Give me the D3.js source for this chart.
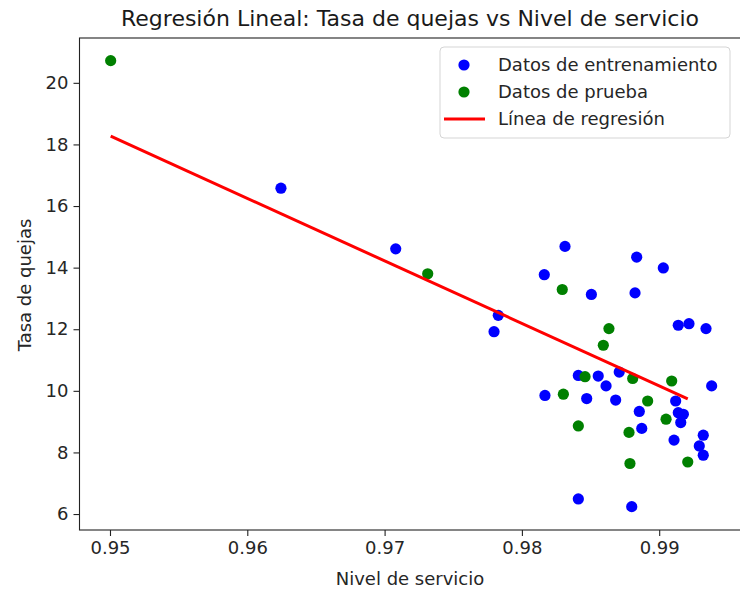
<!DOCTYPE html>
<html>
<head>
<meta charset="utf-8">
<script src="https://cdn.jsdelivr.net/npm/d3@7"></script>
<style>
  html, body { margin: 0; padding: 0; background: #fff; overflow: hidden; }
  svg { display: block; font-family: "DejaVu Sans", sans-serif; }
</style>
</head>
<body>
<div id="chart"></div>
<script>
// Training set: service level (x) and complaint rate (y)
const trainX = [0.96245, 0.97081, 0.97797, 0.97828, 0.98163, 0.98314, 0.98506, 0.98168,
  0.98411, 0.98556, 0.98613, 0.98709, 0.98472, 0.98683, 0.98836, 0.99030, 0.98824,
  0.99139, 0.99217, 0.99341, 0.99382, 0.99120, 0.98855, 0.99139, 0.99176, 0.99157,
  0.98873, 0.99321, 0.99108, 0.99292, 0.99321, 0.98411, 0.98800];
const trainY = [16.58, 14.61, 11.92, 12.45, 13.77, 14.69, 13.13, 9.85,
  10.50, 10.48, 10.16, 10.61, 9.75, 9.70, 14.34, 13.99, 13.18,
  12.13, 12.18, 12.02, 10.16, 9.67, 9.33, 9.29, 9.24, 8.97,
  8.78, 8.56, 8.40, 8.21, 7.91, 6.49, 6.24];

// Test set
const testX = [0.95005, 0.97314, 0.98294, 0.98634, 0.98593, 0.98460, 0.98807, 0.99091,
  0.98302, 0.98916, 0.99050, 0.98411, 0.98780, 0.98787, 0.99208];
const testY = [20.72, 13.80, 13.29, 12.02, 11.48, 10.46, 10.40, 10.32,
  9.89, 9.67, 9.08, 8.86, 8.65, 7.64, 7.69];

// Fitted model: y = intercept + slope * (x - 0.95)
const fitIntercept = 18.28;
const fitSlope = -203.0;

const xTicks = [0.95, 0.96, 0.97, 0.98, 0.99];
const yTicks = [6, 8, 10, 12, 14, 16, 18, 20];

const title = "Regresión Lineal: Tasa de quejas vs Nivel de servicio";
const xLabel = "Nivel de servicio";
const yLabel = "Tasa de quejas";
const legendLabels = ["Datos de entrenamiento", "Datos de prueba", "Línea de regresión"];

const W = 740, H = 591;
const plot = { left: 79.5, top: 38, right: 741, bottom: 530 };

const svg = d3.select("#chart").append("svg").attr("width", W).attr("height", H);

const x = d3.scaleLinear().domain([0.947779, 0.995958]).range([plot.left, plot.right]);
const y = d3.scaleLinear().domain([5.4817, 21.4555]).range([plot.bottom, plot.top]);

// Axes
const xAxis = d3.axisBottom(x).tickValues(xTicks).tickFormat(d3.format(".2f")).tickSize(6).tickPadding(5);
const yAxis = d3.axisLeft(y).tickValues(yTicks).tickFormat(d3.format("d")).tickSize(6).tickPadding(5);

const gx = svg.append("g").attr("transform", `translate(0,${plot.bottom})`).call(xAxis);
const gy = svg.append("g").attr("transform", `translate(${plot.left},0)`).call(yAxis);
[gx, gy].forEach(g => {
  g.select(".domain").remove();
  g.selectAll(".tick line").attr("stroke", "#222").attr("stroke-width", 1.1);
  g.selectAll(".tick text").attr("fill", "#262626").style("font-size", "18px")
    .style("font-family", "DejaVu Sans, sans-serif");
});

// Plot frame
svg.append("rect")
  .attr("x", plot.left).attr("y", plot.top)
  .attr("width", plot.right - plot.left).attr("height", plot.bottom - plot.top)
  .attr("fill", "none").attr("stroke", "#222").attr("stroke-width", 1.1);

// Scatter: training then test
const r = 5.6;
svg.append("g").selectAll("circle").data(trainX.map((v, i) => [v, trainY[i]])).join("circle")
  .attr("cx", d => x(d[0])).attr("cy", d => y(d[1])).attr("r", r).attr("fill", "#0000ff");
svg.append("g").selectAll("circle").data(testX.map((v, i) => [v, testY[i]])).join("circle")
  .attr("cx", d => x(d[0])).attr("cy", d => y(d[1])).attr("r", r).attr("fill", "#008000");

// Regression line across the test range
const xmin = d3.min(testX), xmax = d3.max(testX);
const lineData = [xmin, xmax].map(v => [v, fitIntercept + fitSlope * (v - 0.95)]);
svg.append("path")
  .attr("d", d3.line().x(d => x(d[0])).y(d => y(d[1]))(lineData))
  .attr("stroke", "#ff0000").attr("stroke-width", 3).attr("fill", "none");

// Title and axis labels
svg.append("text").attr("x", 410).attr("y", 26)
  .attr("text-anchor", "middle").style("font-size", "22px").attr("fill", "#1a1a1a").text(title);
svg.append("text").attr("x", 410).attr("y", 585)
  .attr("text-anchor", "middle").style("font-size", "18px").attr("fill", "#262626").text(xLabel);
svg.append("text").attr("transform", "translate(31,285) rotate(-90)")
  .attr("text-anchor", "middle").style("font-size", "18px").attr("fill", "#262626").text(yLabel);

// Legend
const lg = svg.append("g");
lg.append("rect").attr("x", 440).attr("y", 47).attr("width", 290).attr("height", 91)
  .attr("rx", 4).attr("fill", "#fff").attr("fill-opacity", 0.8)
  .attr("stroke", "#d5d5d5").attr("stroke-width", 1);
const rows = [
  { type: "dot", color: "#0000ff" },
  { type: "dot", color: "#008000" },
  { type: "line", color: "#ff0000" }
];
rows.forEach((row, i) => {
  const cy = 65 + i * 27;
  if (row.type === "dot") {
    lg.append("circle").attr("cx", 464).attr("cy", cy).attr("r", r).attr("fill", row.color);
  } else {
    lg.append("line").attr("x1", 444).attr("x2", 485).attr("y1", cy).attr("y2", cy)
      .attr("stroke", row.color).attr("stroke-width", 3);
  }
  lg.append("text").attr("x", 498).attr("y", cy).attr("dy", "0.35em")
    .style("font-size", "18px").attr("fill", "#262626").text(legendLabels[i]);
});
</script>
</body>
</html>
